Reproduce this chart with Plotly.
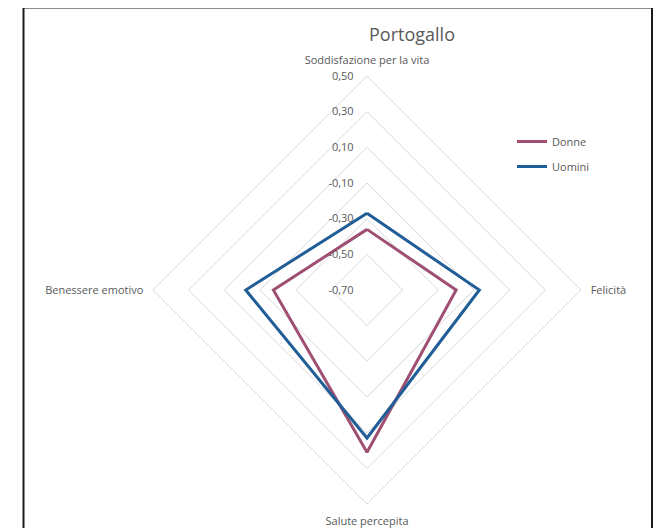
import plotly.graph_objects as go

categories = ["Soddisfazione per la vita", "Felicità", "Salute percepita", "Benessere emotivo"]
donne = [-0.36, -0.20, 0.21, -0.175]
uomini = [-0.27, -0.07, 0.13, -0.02]
series_names = ["Donne", "Uomini"]
series_colors = ["#9E4F72", "#215D96"]
tick_vals = [-0.70, -0.50, -0.30, -0.10, 0.10, 0.30, 0.50]
tick_text = ["-0,70", "-0,50", "-0,30", "-0,10", "0,10", "0,30", "0,50"]

# page body has an 8px margin; work in window coordinates and shift
OFF = 8
W, H = 662 - OFF, 528 - OFF
cx, cy, R = 367 - OFF, 290 - OFF, 214


def px(x):
    return (x - OFF) / W


def py(y):
    return 1 - (y - OFF) / H


fig = go.Figure()
for name, vals, col in zip(series_names, [donne, uomini], series_colors):
    fig.add_trace(go.Scatterpolar(
        r=vals + [vals[0]],
        theta=categories + [categories[0]],
        mode="lines",
        name=name,
        legendgroup=name,
        line=dict(color=col, width=3),
        hoverinfo="skip",
    ))

font_family = "Open Sans, Noto Sans, sans-serif"
fig.update_layout(
    width=W, height=H,
    margin=dict(l=0, r=0, t=0, b=0),
    paper_bgcolor="white",
    plot_bgcolor="white",
    font=dict(family=font_family, color="#595959", size=11),
    title=dict(text="Portogallo", x=px(412), xanchor="center", y=py(35), yanchor="middle",
               font=dict(size=18, color="#595959", family=font_family)),
    polar=dict(
        domain=dict(x=[cx / W - R / W, cx / W + R / W], y=[1 - (cy + R) / H, 1 - (cy - R) / H]),
        gridshape="linear",
        bgcolor="white",
        angularaxis=dict(
            direction="clockwise",
            rotation=90,
            showgrid=False,
            showline=True,
            linecolor="#D9D9D9",
            linewidth=1,
            ticks="outside",
            ticklen=7,
            tickcolor="rgba(0,0,0,0)",
            tickfont=dict(size=11, color="#595959"),
        ),
        radialaxis=dict(
            range=[-0.7, 0.5],
            tickvals=tick_vals,
            ticktext=tick_text,
            angle=90,
            tickangle=90,
            side="counterclockwise",
            showline=False,
            showgrid=True,
            gridcolor="#D9D9D9",
            gridwidth=1,
            ticks="outside",
            ticklen=9,
            tickcolor="rgba(0,0,0,0)",
            tickfont=dict(size=11, color="#595959"),
        ),
    ),
    legend=dict(
        x=px(512), y=py(127), xanchor="left", yanchor="top",
        font=dict(size=11, color="#595959"),
        bgcolor="rgba(0,0,0,0)",
        itemwidth=30,
        tracegroupgap=6,
    ),
    shapes=[dict(type="rect", xref="paper", yref="paper",
                 x0=px(23.5), x1=px(652), y0=-0.03, y1=py(7.5),
                 line=dict(color="#1a1a1a", width=2), fillcolor="rgba(0,0,0,0)")],
)

fig.write_html("out.html")
